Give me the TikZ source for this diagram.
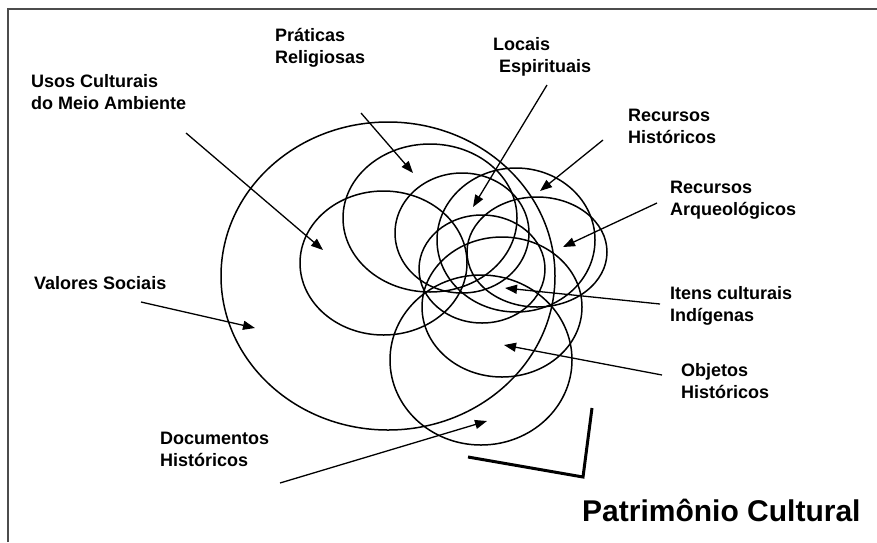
\documentclass[tikz,border=0pt]{standalone}
\usepackage{fontspec}
\setmainfont{Liberation Sans}
\usetikzlibrary{arrows.meta,shapes.geometric}
\begin{document}
\begin{tikzpicture}[x=1pt,y=-1pt,
  ring/.style={draw, ellipse, line width=1.5pt, inner sep=0pt, outer sep=0pt},
  lab/.style={font=\bfseries\fontsize{18}{22}\selectfont, align=left, anchor=base west, inner sep=0pt},
  arr/.style={line width=1.3pt, -{Triangle[length=12pt,width=9pt]}},
  frame/.style={draw=black!70, line width=1.6pt}]
\useasboundingbox (0,0) rectangle (877,542);
\draw[frame] (8,542) -- (8,9) -- (877,9);
% ellipses
\node[ring, minimum width=334pt, minimum height=308pt] (eVal) at (388,276) {};
\node[ring, minimum width=167pt, minimum height=144pt] (eUsos) at (383.5,263) {};
\node[ring, minimum width=174pt, minimum height=148pt] (ePrat) at (430,218) {};
\node[ring, minimum width=134pt, minimum height=120pt] (eLoc) at (462,233) {};
\node[ring, minimum width=158pt, minimum height=144pt] (eRH) at (516,240) {};
\node[ring, minimum width=140pt, minimum height=110pt] (eRA) at (537,252) {};
\node[ring, minimum width=126pt, minimum height=108pt] (eIt) at (482,269) {};
\node[ring, minimum width=160pt, minimum height=140pt] (eObj) at (502,307) {};
\node[ring, minimum width=182pt, minimum height=170pt] (eDoc) at (481,360) {};
% labels (anchor = baseline of the last line)
\node[lab] (lUsos) at (31,109) {Usos Culturais\\do Meio Ambiente};
\node[lab] (lPrat) at (275,63) {Práticas\\Religiosas};
\node[lab] (lLoc) at (493,72) {Locais\\\hspace*{6pt}Espirituais};
\node[lab] (lRH) at (628,143) {Recursos\\Históricos};
\node[lab] (lRA) at (670,215) {Recursos\\Arqueológicos};
\node[lab] (lIt) at (670,321) {Itens culturais\\Indígenas};
\node[lab] (lObj) at (681,398) {Objetos\\Históricos};
\node[lab] (lDoc) at (160,466) {Documentos\\Históricos};
\node[lab] (lVal) at (34,289) {Valores Sociais};
\node[font=\bfseries\fontsize{30}{32}\selectfont, anchor=base west, inner sep=0pt] (title) at (582,521) {Patrimônio Cultural};
% arrow ends
\coordinate (sUsos) at (186,133); \coordinate (tUsos) at (323,250);
\coordinate (sPrat) at (361,113); \coordinate (tPrat) at (413,173);
\coordinate (sLoc) at (547,85); \coordinate (tLoc) at (473,207);
\coordinate (sRH) at (603,140); \coordinate (tRH) at (540,191);
\coordinate (sRA) at (657,203); \coordinate (tRA) at (563,247);
\coordinate (sIt) at (660,304); \coordinate (tIt) at (505,288);
\coordinate (sObj) at (662,375); \coordinate (tObj) at (504,345);
\coordinate (sDoc) at (280,483); \coordinate (tDoc) at (487,421);
\coordinate (sVal) at (141,302); \coordinate (tVal) at (255,328);
\foreach \n in {Usos,Prat,Loc,RH,RA,It,Obj,Doc,Val} \draw[arr] (s\n) -- (t\n);
% L mark
\coordinate (La) at (468,457); \coordinate (Lb) at (583,477); \coordinate (Lc) at (592,408);
\draw[line width=3pt, line join=miter] (La) -- (Lb) -- (Lc);
\end{tikzpicture}
\end{document}
